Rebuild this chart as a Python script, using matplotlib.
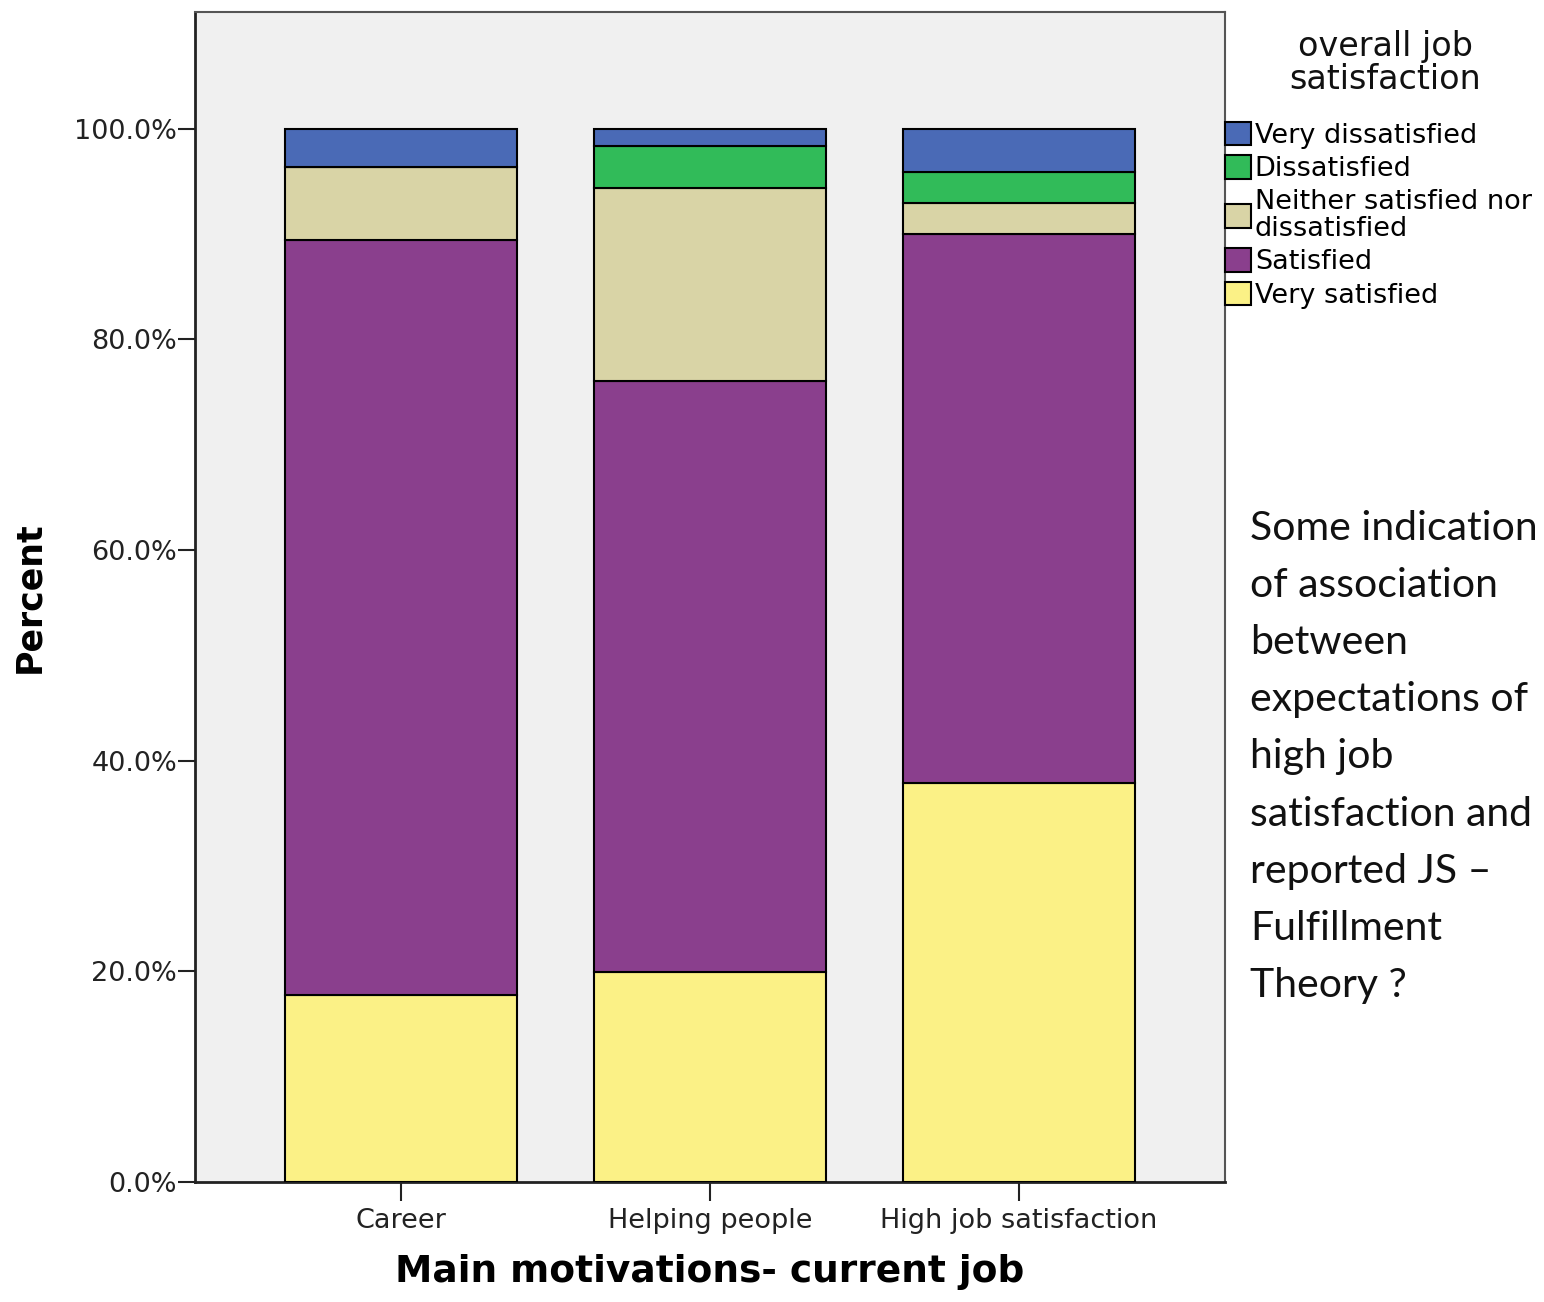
import matplotlib.pyplot as plt
import numpy as np
from matplotlib.patches import Patch

categories = ["Career", "Helping people", "High job satisfaction"]
levels = ["Very satisfied", "Satisfied", "Neither satisfied nor\ndissatisfied",
          "Dissatisfied", "Very dissatisfied"]
very_satisfied = [17.8, 19.9, 37.9]
satisfied = [71.6, 56.2, 52.1]
neither = [7.0, 18.3, 3.0]
dissatisfied = [0.0, 4.0, 2.9]
very_dissatisfied = [3.6, 1.6, 4.1]
colors = ["#fbf186", "#8a3f8d", "#d9d4a6", "#31bb59", "#4a6ab6"]

series = [very_satisfied, satisfied, neither, dissatisfied, very_dissatisfied]

fig = plt.figure(figsize=(15.44, 13.02), dpi=100)
ax = fig.add_axes([0.1263, 0.0922, 0.6671, 0.8986])
ax.set_facecolor("#f0f0f0")

x = np.arange(len(categories))
bottom = np.zeros(len(categories))
for vals, col in zip(series, colors):
    vals = np.array(vals)
    ax.bar(x, vals, width=0.75, bottom=bottom, color=col,
           edgecolor="black", linewidth=1.5, zorder=3)
    bottom += vals

ax.set_xlim(-0.667, 2.667)
ax.set_ylim(0, 111.1)
ax.set_yticks([0, 20, 40, 60, 80, 100])
ax.set_yticklabels(["0.0%", "20.0%", "40.0%", "60.0%", "80.0%", "100.0%"])
ax.set_xticks(x)
ax.set_xticklabels(categories)
ax.tick_params(axis="y", direction="out", length=12, width=1.5,
               labelsize=19.5, colors="#222222", pad=1)
ax.tick_params(axis="x", direction="out", length=14, width=1.5,
               labelsize=19.5, colors="#222222", pad=5)
for s in ax.spines.values():
    s.set_color("#555555")
    s.set_linewidth(1.5)
ax.spines["left"].set_color("#222222")
ax.spines["bottom"].set_color("#222222")
ax.spines["left"].set_linewidth(2)
ax.spines["bottom"].set_linewidth(2)

ax.set_ylabel("Percent", fontsize=25, fontweight="bold", labelpad=20)
ax.set_xlabel("Main motivations- current job", fontsize=27,
              fontweight="bold", labelpad=14)

# legend title as separate text so the gap matches
fig.text(1385 / 1544, 1 - 30 / 1302, "overall job\nsatisfaction", fontsize=24,
         ha="center", va="top", linespacing=1.0, color="#111111")

handles = [Patch(facecolor=c, edgecolor="black", linewidth=1.5)
           for c in colors[::-1]]
leg = fig.legend(handles, levels[::-1], loc="upper left",
                 bbox_to_anchor=(1225 / 1544, 1 - 122 / 1302),
                 frameon=False, fontsize=19.5,
                 handlelength=0.95, handleheight=0.95,
                 handletextpad=0.15, labelspacing=0.24, borderpad=0,
                 borderaxespad=0)
for t in leg.get_texts():
    t.set_linespacing(1.05)

note = ("Some indication\nof association\nbetween\nexpectations of\n"
        "high job\nsatisfaction and\nreported JS \u2013\nFulfillment\nTheory ?")
fig.text(1250 / 1544, 1 - 510 / 1302, note, fontsize=29.5, family="Lato",
         va="top", ha="left", linespacing=1.67, color="#111111")

fig.savefig("out.png", dpi=100)
